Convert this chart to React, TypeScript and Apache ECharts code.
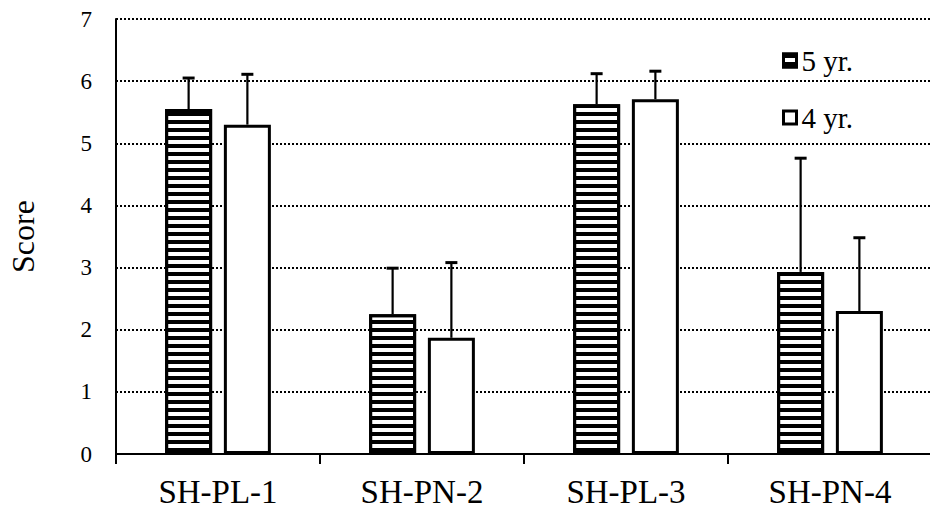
import React, { useEffect, useRef } from "react";
import * as echarts from "echarts";

const categories = ["SH-PL-1", "SH-PN-2", "SH-PL-3", "SH-PN-4"];
const seriesNames = ["5 yr.", "4 yr."];
const mean5 = [5.55, 2.25, 5.63, 2.93];
const err5 = [0.5, 0.74, 0.49, 1.83];
const mean4 = [5.3, 1.87, 5.71, 2.3];
const err4 = [0.81, 1.21, 0.45, 1.18];
const yTicks = [0, 1, 2, 3, 4, 5, 6, 7];

const FONT = "Liberation Serif";
const BAR_W = 47;
const BAR_GAP = 0.25;
const OFFSET = (BAR_W * (1 + BAR_GAP)) / 2;

function errSeries(means: number[], errs: number[], sign: number) {
  return {
    type: "custom",
    silent: true,
    z: 5,
    data: means.map((m, i) => [i, m, m + errs[i]]),
    renderItem: (params: any, api: any) => {
      const p0 = api.coord([api.value(0), api.value(1)]);
      const p1 = api.coord([api.value(0), api.value(2)]);
      const cx = p0[0] + sign * OFFSET;
      return {
        type: "group",
        children: [
          { type: "line", shape: { x1: cx, y1: p0[1], x2: cx, y2: p1[1] }, style: { stroke: "#000", lineWidth: 2.2 } },
          { type: "line", shape: { x1: cx - 6, y1: p1[1], x2: cx + 6, y2: p1[1] }, style: { stroke: "#000", lineWidth: 3 } },
        ],
      };
    },
  };
}

export default function App() {
  const ref = useRef<HTMLDivElement>(null);
  useEffect(() => {
    const chart = echarts.init(ref.current!, null, { renderer: "svg" });
    const hatch = {
      symbol: "rect",
      symbolSize: 1,
      color: "#000",
      dashArrayX: [1, 0],
      dashArrayY: [4, 4],
      rotation: 0,
    };
    chart.setOption({
      animation: false,
      backgroundColor: "#fff",
      textStyle: { fontFamily: FONT, color: "#000" },
      grid: { left: 116, top: 19, width: 816, bottom: 62, containLabel: false, outerBoundsMode: "none" },
      legend: {
        data: seriesNames,
        orient: "vertical",
        left: 777,
        top: 41,
        icon: "rect",
        itemWidth: 13,
        itemHeight: 13,
        itemGap: 28,
        itemStyle: { borderWidth: 3, borderColor: "#000" },
        textStyle: { fontFamily: FONT, fontSize: 29, color: "#000" },
      },
      xAxis: {
        type: "category",
        data: categories,
        axisLine: { lineStyle: { color: "#000", width: 2 } },
        axisTick: { show: true, length: 10, lineStyle: { color: "#000", width: 2 } },
        axisLabel: { fontFamily: FONT, fontSize: 33, color: "#000", margin: 21 },
      },
      yAxis: {
        type: "value",
        min: yTicks[0],
        max: yTicks[yTicks.length - 1],
        interval: 1,
        name: "Score",
        nameLocation: "middle",
        nameGap: 77,
        nameRotate: 90,
        nameTextStyle: { fontFamily: FONT, fontSize: 32, color: "#000" },
        axisLine: { show: true, lineStyle: { color: "#000", width: 2 } },
        axisTick: { show: false },
        axisLabel: { fontFamily: FONT, fontSize: 23, color: "#000", margin: 24 },
        splitLine: { show: true, lineStyle: { color: "#000", width: 2, type: [2, 2] } },
      },
      series: [
        {
          name: seriesNames[0],
          type: "bar",
          data: mean5,
          barWidth: BAR_W,
          barGap: BAR_GAP * 100 + "%",
          itemStyle: { color: "#fff", borderColor: "#000", borderWidth: 3, decal: hatch },
        },
        {
          name: seriesNames[1],
          type: "bar",
          data: mean4,
          barWidth: BAR_W,
          barGap: BAR_GAP * 100 + "%",
          itemStyle: { color: "#fff", borderColor: "#000", borderWidth: 3 },
        },
        errSeries(mean5, err5, -1),
        errSeries(mean4, err4, 1),
      ],
    });
    return () => chart.dispose();
  }, []);
  return <div ref={ref} style={{ position: "fixed", left: 0, top: 0, width: 930, height: 516 }} />;
}
